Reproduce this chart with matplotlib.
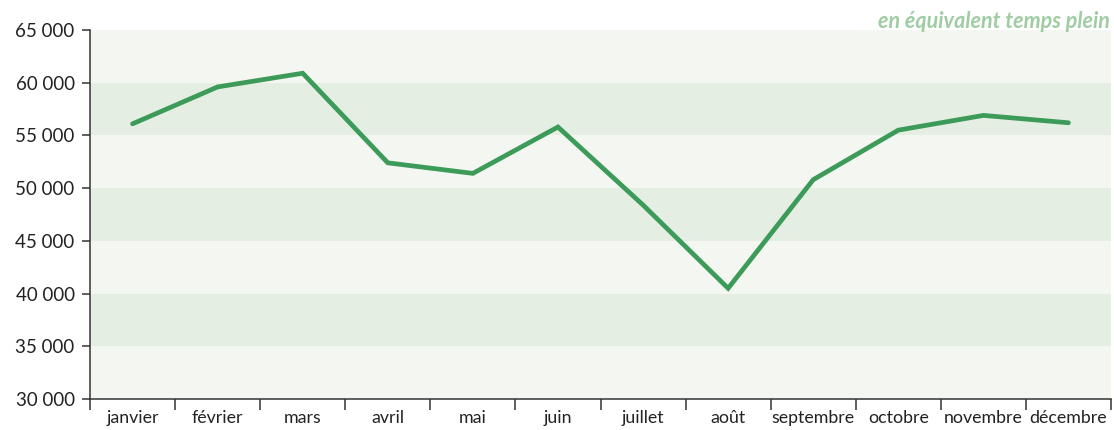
import numpy as np
import matplotlib.pyplot as plt

# monthly values (full-time equivalent)
mois = ["janvier", "février", "mars", "avril", "mai", "juin", "juillet",
        "août", "septembre", "octobre", "novembre", "décembre"]
valeurs = [56100, 59600, 60900, 52400, 51400, 55800, 48400,
           40500, 50800, 55500, 56900, 56200]
y_ticks = [30000, 35000, 40000, 45000, 50000, 55000, 60000, 65000]
y_labels = ["30 000", "35 000", "40 000", "45 000", "50 000", "55 000", "60 000", "65 000"]

plt.rcParams['font.family'] = ['Lato', 'DejaVu Sans']

fig = plt.figure(figsize=(11.14, 4.30), dpi=100)
ax = fig.add_axes([90 / 1114, 31 / 430, 1021 / 1114, 369 / 430])

# alternating horizontal bands
light, dark = "#f3f6f1", "#e5eee3"
for i in range(len(y_ticks) - 1):
    ax.axhspan(y_ticks[i], y_ticks[i + 1], color=dark if i % 2 else light, lw=0, zorder=0)

x = np.arange(len(mois))
ax.plot(x, valeurs, color="#3d9b5a", lw=3.4, solid_capstyle="round", solid_joinstyle="miter", zorder=3)

ax.set_xlim(-0.5, len(mois) - 0.5)
ax.set_ylim(30000, 65000)
ax.set_yticks(y_ticks)
ax.set_yticklabels(y_labels, fontsize=13.5, color="#222222")
ax.set_xticks(x)
ax.set_xticklabels(mois, fontsize=12.8, color="#222222")
ax.set_xticks(np.arange(len(mois) + 1) - 0.5, minor=True)
ax.tick_params(axis="x", which="major", length=0, pad=8)
ax.tick_params(axis="x", which="minor", length=8, width=1.1, color="#333333", direction="out")
ax.tick_params(axis="y", length=6, width=1.1, color="#333333", pad=5)

for s in ["top", "right"]:
    ax.spines[s].set_visible(False)
for s in ["left", "bottom"]:
    ax.spines[s].set_color("#333333")
    ax.spines[s].set_linewidth(1.1)

fig.text(1110 / 1114, 1 - 22 / 430, "en équivalent temps plein", ha="right", va="center",
         fontsize=15.5, style="italic", weight="bold", color="#a0cca3")

fig.savefig("out.png", dpi=100)
